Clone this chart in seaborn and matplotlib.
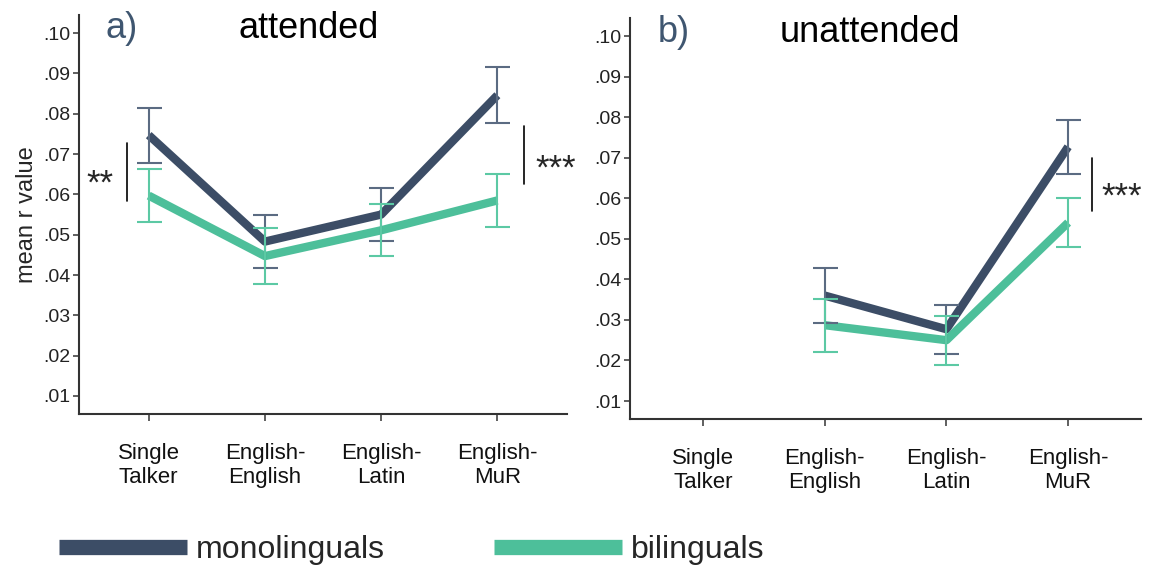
import numpy as np
import pandas as pd
import seaborn as sns
import matplotlib.pyplot as plt
from matplotlib.lines import Line2D

# conditions and group means / error bars
conditions = ['Single\nTalker', 'English-\nEnglish', 'English-\nLatin', 'English-\nMuR']
groups = ['monolinguals', 'bilinguals']

att_mono = [0.0747, 0.0483, 0.0550, 0.0846]
att_mono_err = [0.0068, 0.0065, 0.0065, 0.0070]
att_bi = [0.0597, 0.0447, 0.0511, 0.0585]
att_bi_err = [0.0065, 0.0070, 0.0064, 0.0066]

unatt_mono = [np.nan, 0.0360, 0.0277, 0.0727]
unatt_mono_err = [np.nan, 0.0067, 0.0060, 0.0066]
unatt_bi = [np.nan, 0.0287, 0.0250, 0.0540]
unatt_bi_err = [np.nan, 0.0065, 0.0060, 0.0060]

colors = {'monolinguals': '#3c4d66', 'bilinguals': '#4dbf9a'}
err_colors = {'monolinguals': '#5b6b82', 'bilinguals': '#5cc9a4'}

sns.set_style('ticks')
plt.rcParams['font.family'] = ['Liberation Sans', 'DejaVu Sans']


def make_df(mono, mono_err, bi, bi_err):
    rows = []
    for i in range(len(conditions)):
        rows.append(('monolinguals', i, mono[i], mono_err[i]))
        rows.append(('bilinguals', i, bi[i], bi_err[i]))
    return pd.DataFrame(rows, columns=['group', 'x', 'r', 'err']).dropna()


fig = plt.figure(figsize=(11.55, 5.7), dpi=100)
ax1 = fig.add_axes([0.0684, 0.2737, 0.4226, 0.70])
ax2 = fig.add_axes([0.5455, 0.2649, 0.4425, 0.7031])

panels = [
    (ax1, make_df(att_mono, att_mono_err, att_bi, att_bi_err), 'a)', 'attended', (0.00553, 0.1045)),
    (ax2, make_df(unatt_mono, unatt_mono_err, unatt_bi, unatt_bi_err), 'b)', 'unattended', (0.00556, 0.1044)),
]

for ax, df, letter, title, ylim in panels:
    sns.lineplot(data=df, x='x', y='r', hue='group', hue_order=groups,
                 palette=colors, lw=6, legend=False, ax=ax, zorder=2,
                 solid_capstyle='butt')
    for g in groups:
        sub = df[df['group'] == g]
        ax.errorbar(sub['x'], sub['r'], yerr=sub['err'], fmt='none',
                    ecolor=err_colors[g], elinewidth=1.5, capsize=9,
                    capthick=1.5, zorder=3)
    ax.set_xlim(-0.6, 3.6)
    ax.set_ylim(*ylim)
    ax.set_xticks(range(len(conditions)))
    ax.set_xticklabels(conditions, fontsize=16, color='#111111', linespacing=1.15)
    ax.set_yticks(np.arange(0.01, 0.105, 0.01))
    ax.set_yticklabels(['.%02d' % v for v in range(1, 11)], fontsize=14, color='#222222')
    ax.tick_params(axis='x', length=5, width=1.2, pad=16, color='#444444')
    ax.tick_params(axis='y', length=4, width=1.2, pad=2, color='#444444')
    ax.set_xlabel('')
    ax.set_ylabel('')
    for s in ['top', 'right']:
        ax.spines[s].set_visible(False)
    for s in ['left', 'bottom']:
        ax.spines[s].set_color('#333333')
        ax.spines[s].set_linewidth(1.5)
    ax.text(0.055, 0.965, letter, transform=ax.transAxes, fontsize=26,
            color='#3f5670', va='center', ha='left')
    ax.text(0.47, 0.965, title, transform=ax.transAxes, fontsize=26,
            color='black', va='center', ha='center')

ax1.set_ylabel('mean r value', fontsize=17, labelpad=4)

# significance markers
ax1.plot([-0.19, -0.19], [0.0583, 0.0727], color='black', lw=1.2, clip_on=False)
ax1.text(-0.3, 0.0625, '**', fontsize=25, ha='right', va='center')
ax1.plot([3.23, 3.23], [0.0625, 0.0769], color='black', lw=1.2, clip_on=False)
ax1.text(3.33, 0.0662, '***', fontsize=25, ha='left', va='center', clip_on=False)
ax2.plot([3.2, 3.2], [0.0569, 0.0699], color='black', lw=1.2, clip_on=False)
ax2.text(3.27, 0.0602, '***', fontsize=25, ha='left', va='center', clip_on=False)

handles = [Line2D([0], [0], color=colors[g], lw=11, solid_capstyle='butt') for g in groups]
fig.legend(handles, groups, loc='center left', bbox_to_anchor=(0.026, 0.035),
           ncol=2, frameon=False, handlelength=4.0, handletextpad=0.3,
           columnspacing=3.4, prop={'size': 23})

fig.savefig('out.png', dpi=100)
